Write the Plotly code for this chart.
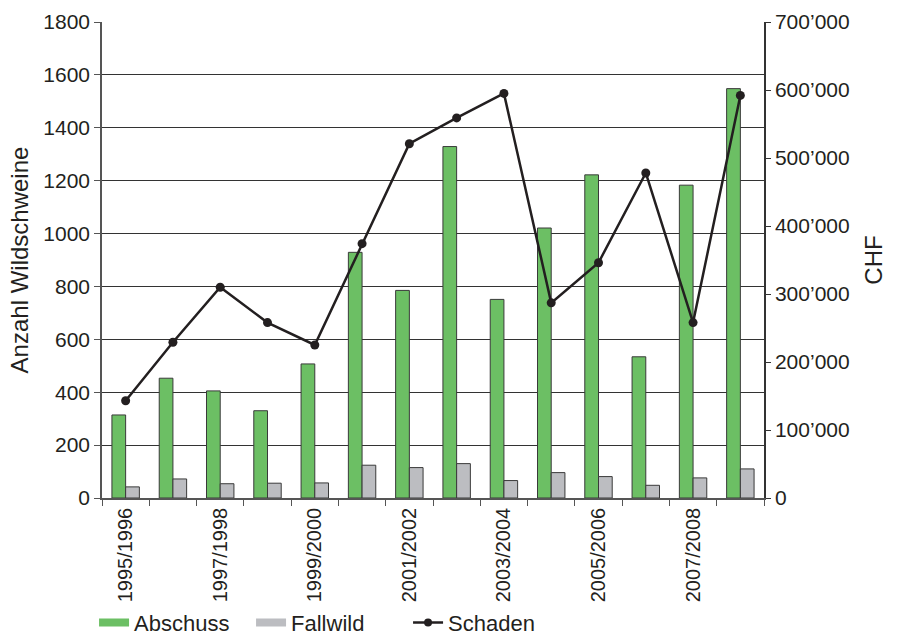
import plotly.graph_objects as go

seasons = ["1995/1996", "1996/1997", "1997/1998", "1998/1999", "1999/2000",
           "2000/2001", "2001/2002", "2002/2003", "2003/2004", "2004/2005",
           "2005/2006", "2006/2007", "2007/2008", "2008/2009"]
abschuss = [314, 453, 405, 330, 507, 929, 785, 1329, 751, 1021, 1222, 534, 1183, 1548]
fallwild = [42, 72, 54, 56, 57, 124, 115, 130, 66, 96, 81, 48, 76, 110]
schaden = [143000, 229000, 310000, 258000, 225000, 374000, 521000, 559000,
           595000, 287000, 346000, 478000, 258000, 592000]

left_ticks = list(range(0, 1801, 200))
right_ticks = list(range(0, 700001, 100000))
right_text = ["0"] + [f"{v // 1000}\u2019000" for v in right_ticks[1:]]
x_text = [s if i % 2 == 0 else "" for i, s in enumerate(seasons)]

ink = "#231F20"
green = "#6CBF64"
grey = "#BCBDC1"
font = "Liberation Sans, Arial, sans-serif"

fig = go.Figure()
fig.add_trace(go.Bar(x=seasons, y=abschuss, name="Abschuss", showlegend=False,
                     marker=dict(color=green, line=dict(color="#3a3a3a", width=1))))
fig.add_trace(go.Bar(x=seasons, y=fallwild, name="Fallwild", showlegend=False,
                     marker=dict(color=grey, line=dict(color="#3a3a3a", width=1))))
fig.add_trace(go.Scatter(x=seasons, y=schaden, name="Schaden", yaxis="y2",
                         mode="lines+markers", showlegend=False,
                         line=dict(color=ink, width=2.5),
                         marker=dict(color=ink, size=9)))
# legend entries (swatches drawn as wide rectangles)
fig.add_trace(go.Scatter(x=[None], y=[None], name="Abschuss", mode="lines",
                         line=dict(color=green, width=8)))
fig.add_trace(go.Scatter(x=[None], y=[None], name="Fallwild", mode="lines",
                         line=dict(color=grey, width=8)))
fig.add_trace(go.Scatter(x=[None], y=[None], name="Schaden", mode="lines+markers",
                         line=dict(color=ink, width=2.5), marker=dict(color=ink, size=8)))

fig.update_layout(
    width=903, height=642,
    margin=dict(l=102, r=139, t=22, b=144, autoexpand=False),
    paper_bgcolor="white", plot_bgcolor="white",
    font=dict(family=font, size=21, color=ink),
    barmode="group", bargap=0.42, bargroupgap=0,
    showlegend=True,
    legend=dict(orientation="h", x=-0.012, xanchor="left", y=-0.262, yanchor="middle",
                font=dict(size=22), itemwidth=30, traceorder="normal",
                entrywidth=112, entrywidthmode="pixels"),
    xaxis=dict(
        type="category", tickmode="array", tickvals=seasons, ticktext=x_text,
        range=[-0.5, len(seasons) - 0.5],
        tickangle=-90, tickson="boundaries", ticks="outside", ticklen=6,
        tickcolor="#555", showline=True, linecolor="#555", linewidth=1.5,
        showgrid=False, tickfont=dict(size=20), automargin=False,
    ),
    yaxis=dict(
        range=[0, 1800], tickmode="array", tickvals=left_ticks,
        ticks="outside", ticklen=6, tickcolor="#555",
        showline=True, linecolor="#555", linewidth=1.5,
        showgrid=True, gridcolor="#333", gridwidth=1.2,
        zeroline=False, tickfont=dict(size=21), automargin=False,
        title=dict(text="Anzahl Wildschweine", font=dict(size=24), standoff=8),
    ),
    yaxis2=dict(
        range=[0, 700000], overlaying="y", side="right",
        tickmode="array", tickvals=right_ticks, ticktext=right_text,
        ticks="outside", ticklen=5, tickcolor="#333",
        showline=True, linecolor="#333", linewidth=1.5,
        showgrid=False, zeroline=False, tickfont=dict(size=21), automargin=False,
        title=dict(text="CHF", font=dict(size=24), standoff=16),
    ),
)

fig.write_html("out.html")
